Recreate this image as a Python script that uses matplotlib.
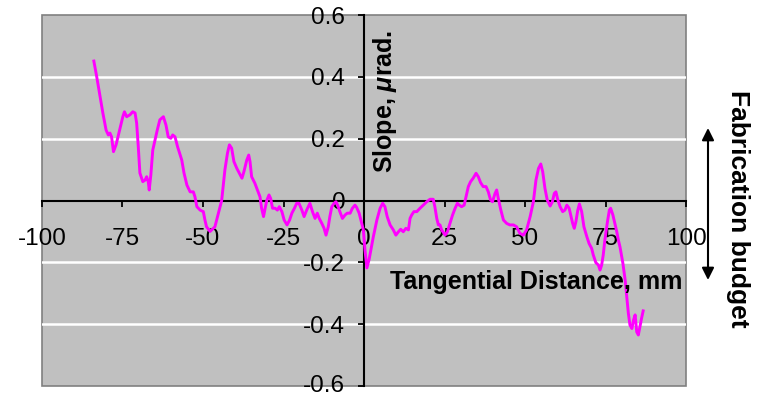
import numpy as np
import matplotlib
matplotlib.use("Agg")
import matplotlib.pyplot as plt
import matplotlib.transforms as mtrans

plt.rcParams['font.family'] = ['Liberation Sans', 'DejaVu Sans']
plt.rcParams['axes.unicode_minus'] = False
plt.rcParams['mathtext.fontset'] = 'custom'
plt.rcParams['mathtext.it'] = 'Liberation Sans:italic:bold'
plt.rcParams['mathtext.rm'] = 'Liberation Sans:bold'

# tangential position (mm) and measured slope error (microradians)
dist_mm = [
    -83.9, -83.0, -81.8, -81.1, -80.1, -79.4, -78.9, -78.4, -77.8, -77.0,
    -76.0, -74.9, -74.4, -73.7, -72.7, -71.8, -71.1, -70.6, -70.1, -69.6,
    -68.7, -68.0, -67.5, -67.0, -66.7, -66.2, -65.6, -64.9, -64.2, -63.4,
    -62.3, -61.5, -60.8, -60.0, -59.4, -58.7, -57.9, -56.6, -55.9, -55.0,
    -54.0, -53.0, -52.5, -51.9, -50.9, -49.9, -49.4, -48.9, -47.8, -46.3,
    -45.2, -44.2, -43.2, -42.4, -41.8, -41.1, -40.4, -39.5, -38.7, -37.9,
    -37.3, -36.4, -35.8, -35.4, -34.9, -33.9, -33.1, -32.3, -31.8, -31.2,
    -30.7, -30.2, -29.5, -29.0, -28.4, -27.6, -26.9, -26.3, -25.5, -24.8,
    -23.9, -23.1, -22.4, -21.6, -20.9, -20.2, -19.3, -18.6, -17.8, -16.8,
    -16.0, -15.2, -14.5, -13.9, -13.1, -12.4, -11.8, -11.1, -10.6, -10.0,
    -9.3, -8.7, -8.2, -7.5, -6.7, -5.9, -5.2, -4.3, -3.6, -2.8,
    -2.3, -1.5, -0.7, -0.2, 0.3, 0.9, 1.6, 2.9, 4.0, 5.0,
    5.8, 6.5, 7.2, 8.1, 9.1, 9.9, 10.7, 11.4, 12.2, 13.0,
    13.8, 14.3, 14.8, 15.5, 16.4, 17.4, 18.4, 19.5, 20.5, 21.5,
    22.0, 22.6, 23.1, 23.6, 24.1, 25.2, 25.9, 26.7, 27.5, 28.3,
    29.0, 29.6, 30.3, 31.1, 31.7, 32.4, 33.1, 33.9, 34.8, 35.5,
    36.2, 37.0, 37.9, 38.6, 39.3, 39.9, 40.7, 41.2, 41.7, 42.5,
    43.3, 44.3, 45.3, 46.4, 47.4, 48.4, 49.5, 50.5, 51.6, 52.6,
    53.4, 54.2, 54.9, 55.5, 56.2, 56.9, 57.8, 58.5, 59.1, 59.6,
    60.2, 60.9, 61.7, 62.4, 63.0, 63.7, 64.2, 64.8, 65.3, 65.8,
    66.4, 66.9, 67.6, 68.3, 69.2, 69.9, 70.7, 71.2, 72.0, 72.8,
    73.3, 73.8, 74.3, 74.8, 75.6, 76.2, 76.6, 77.3, 77.9, 78.5,
    79.0, 79.5, 80.4, 81.1, 81.6, 82.1, 82.6, 83.2, 83.7, 84.2,
    84.7, 85.2, 85.7, 86.2, 86.7,
]
slope_urad = [
    0.451, 0.400, 0.325, 0.283, 0.228, 0.212, 0.218, 0.206, 0.158, 0.180,
    0.223, 0.271, 0.287, 0.271, 0.277, 0.287, 0.283, 0.250, 0.174, 0.089,
    0.061, 0.066, 0.077, 0.061, 0.034, 0.083, 0.163, 0.196, 0.228, 0.261,
    0.271, 0.244, 0.206, 0.201, 0.212, 0.206, 0.174, 0.131, 0.089, 0.050,
    0.028, 0.028, 0.012, -0.020, -0.031, -0.036, -0.063, -0.085, -0.100, -0.085,
    -0.041, 0.000, 0.099, 0.153, 0.180, 0.169, 0.126, 0.104, 0.088, 0.072,
    0.093, 0.131, 0.147, 0.126, 0.077, 0.056, 0.034, 0.012, -0.025, -0.052,
    -0.025, 0.000, 0.018, 0.007, -0.025, -0.025, -0.031, -0.020, -0.036, -0.063,
    -0.079, -0.063, -0.041, -0.025, -0.009, -0.009, -0.031, -0.052, -0.031, -0.009,
    -0.036, -0.058, -0.041, -0.058, -0.074, -0.090, -0.112, -0.085, -0.052, -0.020,
    -0.009, -0.004, -0.015, -0.036, -0.058, -0.047, -0.041, -0.041, -0.025, -0.015,
    -0.022, -0.041, -0.074, -0.095, -0.160, -0.218, -0.190, -0.117, -0.063, -0.025,
    -0.009, -0.020, -0.052, -0.079, -0.095, -0.112, -0.101, -0.093, -0.101, -0.090,
    -0.095, -0.058, -0.047, -0.036, -0.036, -0.025, -0.015, -0.004, 0.004, 0.004,
    -0.020, -0.058, -0.079, -0.079, -0.095, -0.112, -0.101, -0.074, -0.047, -0.025,
    -0.009, -0.015, -0.020, -0.015, 0.012, 0.045, 0.061, 0.072, 0.088, 0.077,
    0.058, 0.045, 0.045, 0.028, 0.002, -0.004, 0.023, 0.034, 0.007, -0.031,
    -0.063, -0.074, -0.079, -0.079, -0.085, -0.106, -0.112, -0.095, -0.052, -0.004,
    0.066, 0.104, 0.118, 0.093, 0.039, 0.002, -0.018, -0.004, 0.023, 0.028,
    0.002, -0.020, -0.036, -0.031, -0.015, -0.025, -0.047, -0.074, -0.090, -0.069,
    -0.031, -0.011, -0.036, -0.085, -0.117, -0.139, -0.155, -0.176, -0.201, -0.209,
    -0.225, -0.209, -0.176, -0.128, -0.069, -0.031, -0.025, -0.047, -0.074, -0.101,
    -0.128, -0.150, -0.203, -0.257, -0.311, -0.365, -0.403, -0.414, -0.387, -0.370,
    -0.425, -0.435, -0.408, -0.381, -0.357,
]

x_ticks = [-100, -75, -50, -25, 0, 25, 50, 75, 100]
y_ticks = [-0.6, -0.4, -0.2, 0, 0.2, 0.4, 0.6]
y_ticklabels = ['-0.6', '-0.4', '-0.2', '0', '0.2', '0.4', '0.6']
grid_levels = [-0.4, -0.2, 0.2, 0.4]

fig = plt.figure(figsize=(7.61, 3.97), dpi=100)
ax = fig.add_axes([42 / 761, 11 / 397, 644 / 761, 371 / 397])
ax.set_facecolor('#c0c0c0')
ax.patch.set_edgecolor('#808080')
ax.patch.set_linewidth(1.2)

# white horizontal gridlines
for g in grid_levels:
    ax.axhline(g, color='white', lw=1.8, zorder=1)

ax.plot(dist_mm, slope_urad, color='#ff00ff', lw=2.1, zorder=3)

ax.set_xlim(-100, 100)
ax.set_ylim(-0.6, 0.6)

# axes crossing at the origin
for s in ['top', 'right']:
    ax.spines[s].set_visible(False)
for s in ['left', 'bottom']:
    ax.spines[s].set_position(('data', 0))
    ax.spines[s].set_linewidth(1.5)
    ax.spines[s].set_zorder(2)

ax.set_xticks(x_ticks)
ax.set_xticklabels([str(v) for v in x_ticks])
ax.set_yticks(y_ticks)
ax.set_yticklabels(y_ticklabels)
ax.tick_params(axis='x', direction='out', length=4.5, width=1.3, pad=15, labelsize=17.5)
ax.tick_params(axis='y', direction='out', length=4.5, width=1.3, pad=9, labelsize=17.5)

# nudge the lowest y label up a little so it stays inside the figure
low_lab = ax.yaxis.get_major_ticks()[0].label1
low_lab.set_transform(low_lab.get_transform()
                      + mtrans.ScaledTranslation(0, 3 / 100, fig.dpi_scale_trans))

ax.text(6.6, 0.322, 'Slope, $\\mu$rad.', rotation=90, ha='center', va='center',
        fontsize=18, fontweight='bold')
ax.text(8.0, -0.262, 'Tangential Distance, mm', ha='left', va='center',
        fontsize=18, fontweight='bold')

fig.text(738 / 761, 1 - 209 / 397, 'Fabrication budget', rotation=-90,
         ha='center', va='center', fontsize=19, fontweight='bold')
fig.add_artist(matplotlib.patches.FancyArrowPatch(
    (708 / 761, 1 - 128 / 397), (708 / 761, 1 - 280 / 397),
    transform=fig.transFigure, arrowstyle='<|-|>', mutation_scale=18,
    color='black', lw=1.5, shrinkA=0, shrinkB=0))

fig.savefig('out.png', dpi=100)
